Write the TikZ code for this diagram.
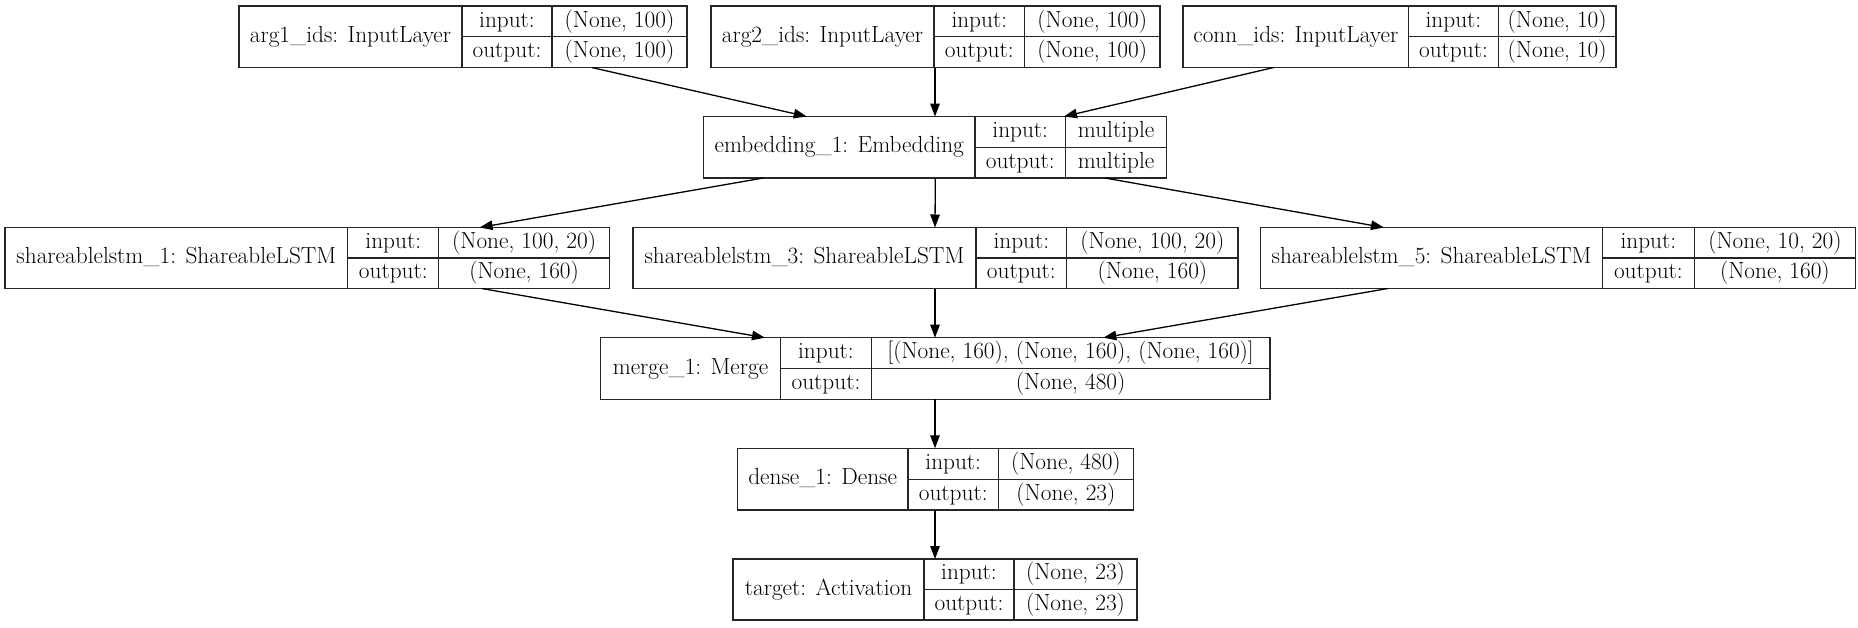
\documentclass[tikz,border=0pt]{standalone}
\usetikzlibrary{arrows.meta}
\begin{document}
\begin{tikzpicture}[x=1pt,y=-1pt,
  recbox/.style={draw=black!85, line width=1.2pt, inner sep=0pt, outer sep=0pt},
  cellline/.style={draw=black!85, line width=1.2pt},
  txt/.style={inner sep=0pt, anchor=center, text height=17.2pt, text depth=5.8pt,
    font=\fontsize{23.3}{27}\selectfont},
  edge/.style={draw=black, line width=1.3pt, -{Triangle[length=13pt,width=9.5pt]}}]
\useasboundingbox (0,0) rectangle (1858,627);
\fill[white] (0,0) rectangle (1858,627);
\foreach \n/\L/\T/\R/\B/\da/\db/\ti/\vi/\vo in {
  arg1/239/6/687/67.5/462/552/{arg1\_ids: InputLayer}/{(None, 100)}/{(None, 100)},
  arg2/711/6/1160/67.5/934/1024.6/{arg2\_ids: InputLayer}/{(None, 100)}/{(None, 100)},
  conn/1183/6/1616/67.5/1408.6/1498.3/{conn\_ids: InputLayer}/{(None, 10)}/{(None, 10)},
  emb/703.5/116.5/1166.7/178/975/1065.5/{embedding\_1: Embedding}/{multiple}/{multiple},
  sla/5/227.5/609.4/288.5/347.8/438.8/{shareablelstm\_1: ShareableLSTM}/{(None, 100, 20)}/{(None, 160)},
  slb/633/227.5/1238/288.5/975.9/1066.8/{shareablelstm\_3: ShareableLSTM}/{(None, 100, 20)}/{(None, 160)},
  slc/1260.5/227.5/1855.7/288.5/1602.6/1694.1/{shareablelstm\_5: ShareableLSTM}/{(None, 10, 20)}/{(None, 160)},
  merge/600.5/337.7/1269.9/399.3/780.6/871.3/{merge\_1: Merge}/{[(None, 160), (None, 160), (None, 160)]}/{(None, 480)},
  dense/737.3/448.3/1133.3/510/908/998.5/{dense\_1: Dense}/{(None, 480)}/{(None, 23)},
  target/733/559/1137/620/924/1014/{target: Activation}/{(None, 23)}/{(None, 23)}}
{
  \pgfmathsetmacro\W{\R-\L}
  \pgfmathsetmacro\H{\B-\T}
  \pgfmathsetmacro\M{(\T+\B)/2}
  \node[recbox, minimum width=\W pt, minimum height=\H pt] (\n) at ({(\L+\R)/2},\M) {};
  \draw[cellline] (\da,\T) -- (\da,\B);
  \draw[cellline] (\db,\T) -- (\db,\B);
  \draw[cellline] (\da,\M) -- (\R,\M);
  \node[txt] (\n-title) at ({(\L+\da)/2},\M) {\ti};
  \node[txt] (\n-inl) at ({(\da+\db)/2},{(\T+\M)/2}) {input:};
  \node[txt] (\n-outl) at ({(\da+\db)/2},{(\M+\B)/2}) {output:};
  \node[txt] (\n-inv) at ({(\db+\R)/2},{(\T+\M)/2}) {\vi};
  \node[txt] (\n-outv) at ({(\db+\R)/2},{(\M+\B)/2}) {\vo};
}
% connectors (offsets measured from south west / north west corners)
\draw[edge] ([xshift=352.7pt]arg1.south west) -- ([xshift=103.2pt]emb.north west);
\draw[edge] ([xshift=224pt]arg2.south west) -- ([xshift=231.5pt]emb.north west);
\draw[edge] ([xshift=90.7pt]conn.south west) -- ([xshift=360.5pt]emb.north west);
\draw[edge] ([xshift=59.8pt]emb.south west) -- ([xshift=474.6pt]sla.north west);
\draw[edge] ([xshift=231.8pt]emb.south west) -- ([xshift=302pt]slb.north west);
\draw[edge] ([xshift=401.5pt]emb.south west) -- ([xshift=123.5pt]slc.north west);
\draw[edge] ([xshift=476.6pt]sla.south west) -- ([xshift=164.5pt]merge.north west);
\draw[edge] ([xshift=302pt]slb.south west) -- ([xshift=334.5pt]merge.north west);
\draw[edge] ([xshift=127.3pt]slc.south west) -- ([xshift=502.8pt]merge.north west);
\draw[edge] ([xshift=334.5pt]merge.south west) -- ([xshift=197.7pt]dense.north west);
\draw[edge] ([xshift=197.7pt]dense.south west) -- ([xshift=202pt]target.north west);
\end{tikzpicture}
\end{document}
